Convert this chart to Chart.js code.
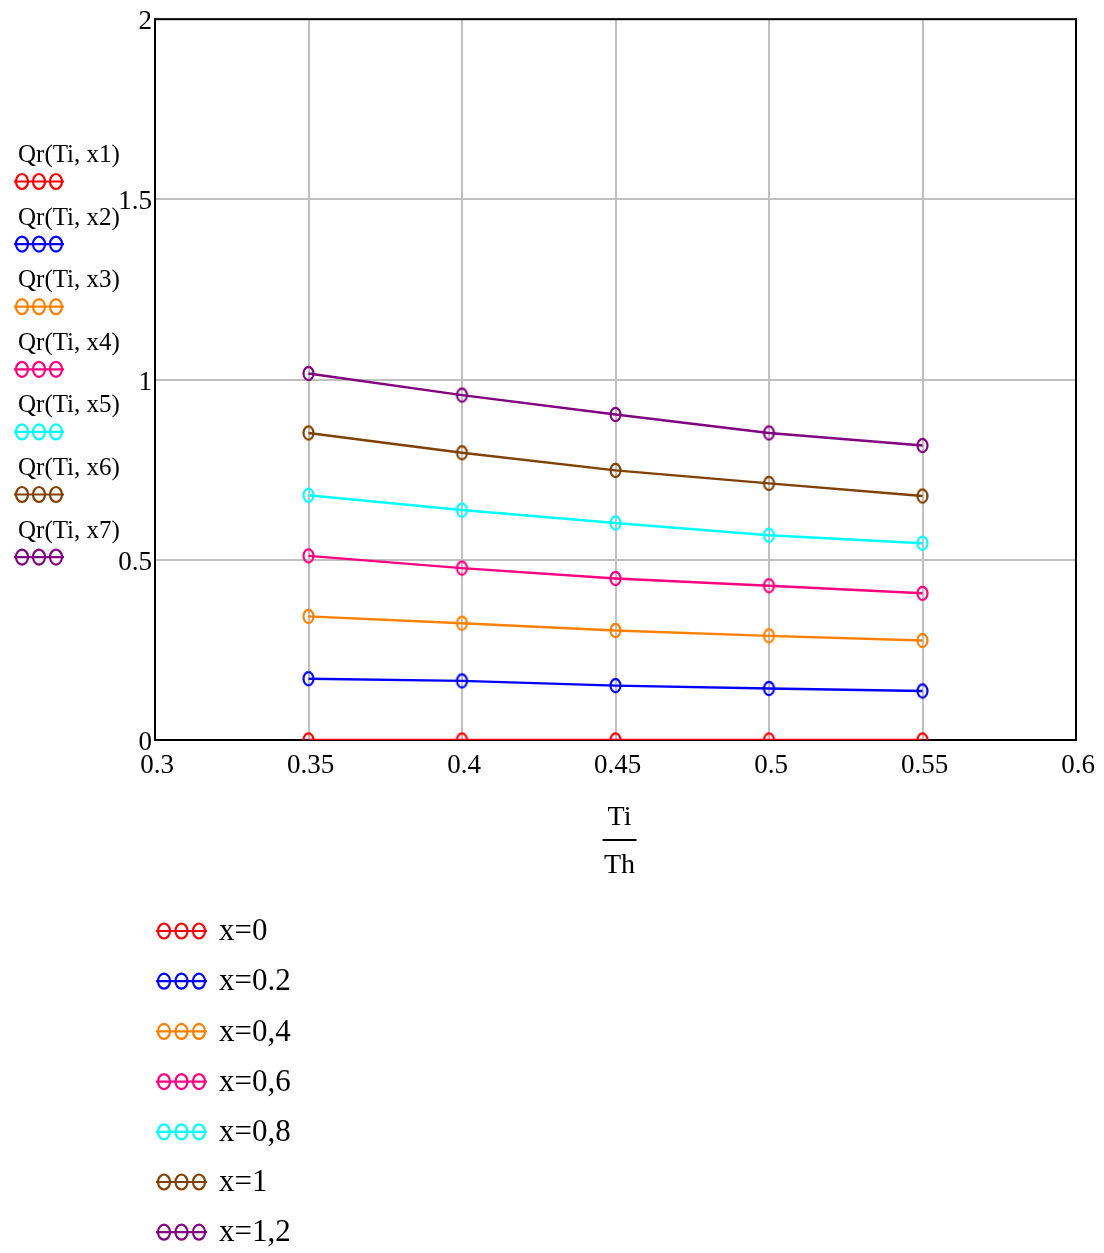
<!DOCTYPE html>
<html>
<head>
<meta charset="utf-8">
<script src="https://cdn.jsdelivr.net/npm/chart.js@4"></script>
<style>
  html, body { margin: 0; padding: 0; background: #ffffff; }
  #wrap { width: 1104px; height: 1253px; }
</style>
</head>
<body>
<div id="wrap"><canvas id="c" width="1104" height="1253"></canvas></div>
<script>
// Ti/Th ratio on the horizontal axis
const ratios = [0.35, 0.40, 0.45, 0.50, 0.55];

// Qr(Ti, x) for each x
const qrX1 = [0.000, 0.000, 0.000, 0.000, 0.000];
const qrX2 = [0.170, 0.164, 0.151, 0.143, 0.136];
const qrX3 = [0.343, 0.324, 0.304, 0.289, 0.276];
const qrX4 = [0.511, 0.477, 0.448, 0.428, 0.407];
const qrX5 = [0.679, 0.638, 0.602, 0.568, 0.546];
const qrX6 = [0.852, 0.797, 0.748, 0.712, 0.677];
const qrX7 = [1.017, 0.957, 0.903, 0.852, 0.817];

const seriesNames = ['Qr(Ti, x1)', 'Qr(Ti, x2)', 'Qr(Ti, x3)', 'Qr(Ti, x4)', 'Qr(Ti, x5)', 'Qr(Ti, x6)', 'Qr(Ti, x7)'];
const xLabels = ['x=0', 'x=0.2', 'x=0,4', 'x=0,6', 'x=0,8', 'x=1', 'x=1,2'];
const seriesColors = ['#ff0000', '#0000ff', '#ff8000', '#ff0080', '#00ffff', '#804000', '#800080'];

// tick positions
const xTicks = [0.3, 0.35, 0.4, 0.45, 0.5, 0.55, 0.6];
const yTicks = [0, 0.5, 1, 1.5, 2];

const allSeries = [qrX1, qrX2, qrX3, qrX4, qrX5, qrX6, qrX7];
const SERIF = '"Liberation Serif", "Times New Roman", serif';

// open elliptical marker used for the points
function ringMarker(color, rx, ry) {
  const c = document.createElement('canvas');
  const w = Math.ceil(rx * 2 + 5), h = Math.ceil(ry * 2 + 5);
  c.width = w; c.height = h;
  const g = c.getContext('2d');
  g.strokeStyle = color;
  g.lineWidth = 2.2;
  g.beginPath();
  g.ellipse(w / 2, h / 2, rx, ry, 0, 0, Math.PI * 2);
  g.stroke();
  return c;
}

function fmt(v) {
  return String(Math.round(v * 100) / 100);
}

const datasets = allSeries.map((vals, i) => ({
  label: seriesNames[i],
  data: ratios.map((r, k) => ({ x: r, y: vals[k] })),
  borderColor: seriesColors[i],
  borderWidth: 2.4,
  pointStyle: ringMarker(seriesColors[i], 5, 6.6),
  pointRadius: 7,
  pointHoverRadius: 7,
  clip: 0,
  fill: false,
  tension: 0
}));

function drawLegendSymbol(ctx, color, x0, x1, y, cxs, rx, ry) {
  ctx.save();
  ctx.strokeStyle = color;
  ctx.lineWidth = 2.2;
  ctx.beginPath();
  ctx.moveTo(x0, y);
  ctx.lineTo(x1, y);
  ctx.stroke();
  cxs.forEach(cx => {
    ctx.beginPath();
    ctx.ellipse(cx, y, rx, ry, 0, 0, Math.PI * 2);
    ctx.stroke();
  });
  ctx.restore();
}

const decorations = {
  id: 'decorations',
  beforeDatasetsDraw(chart) {
    const ctx = chart.ctx;
    const a = chart.chartArea;
    // plot frame, under the traces
    ctx.save();
    ctx.strokeStyle = '#000000';
    ctx.lineWidth = 2;
    ctx.strokeRect(a.left, a.top, a.right - a.left, a.bottom - a.top);
    ctx.restore();
  },
  afterDraw(chart) {
    const ctx = chart.ctx;

    // axis title as a fraction Ti / Th
    const cx = (chart.scales.x.getPixelForValue(0.45)) + 4;
    ctx.save();
    ctx.fillStyle = '#000000';
    ctx.font = '28px ' + SERIF;
    ctx.textAlign = 'center';
    ctx.textBaseline = 'middle';
    ctx.fillText('Ti', cx, 818);
    ctx.fillText('Th', cx, 866);
    ctx.strokeStyle = '#000000';
    ctx.lineWidth = 2;
    ctx.beginPath();
    ctx.moveTo(cx - 17, 840);
    ctx.lineTo(cx + 17, 840);
    ctx.stroke();
    ctx.restore();

    // trace names on the left
    ctx.save();
    ctx.font = '25px ' + SERIF;
    ctx.fillStyle = '#000000';
    ctx.textAlign = 'left';
    ctx.textBaseline = 'middle';
    seriesNames.forEach((name, i) => {
      const y = 181.5 + 62.6 * i;
      ctx.fillText(name, 18, y - 26);
      drawLegendSymbol(ctx, seriesColors[i], 14, 64, y, [22, 39, 56], 6, 7.5);
    });
    ctx.restore();

    // legend below the plot
    ctx.save();
    ctx.font = '31px ' + SERIF;
    ctx.fillStyle = '#000000';
    ctx.textAlign = 'left';
    ctx.textBaseline = 'middle';
    xLabels.forEach((lab, i) => {
      const y = 931 + 50.2 * i;
      drawLegendSymbol(ctx, seriesColors[i], 156, 207, y, [164, 181.5, 199], 6, 7.5);
      ctx.fillText(lab, 219, y + 1);
    });
    ctx.restore();
  }
};

new Chart(document.getElementById('c'), {
  type: 'line',
  data: { datasets },
  plugins: [decorations],
  options: {
    responsive: false,
    animation: false,
    events: [],
    layout: { padding: { left: 0, top: 16, right: 28, bottom: 0 } },
    plugins: {
      legend: { display: false },
      tooltip: { enabled: false },
      title: { display: false }
    },
    scales: {
      x: {
        type: 'linear',
        min: 0.3,
        max: 0.6,
        afterBuildTicks: s => { s.ticks = xTicks.map(v => ({ value: v })); },
        afterFit: s => { s.height = 513; },
        grid: { color: '#c0c0c0', lineWidth: 2, drawTicks: false },
        border: { color: '#000000', width: 2 },
        ticks: {
          color: '#000000',
          font: { family: SERIF, size: 27 },
          padding: 10,
          maxRotation: 0,
          labelOffset: 2,
          callback: v => fmt(v)
        }
      },
      y: {
        type: 'linear',
        min: 0,
        max: 2,
        afterBuildTicks: s => { s.ticks = yTicks.map(v => ({ value: v })); },
        afterFit: s => { s.width = 155; },
        grid: { color: '#c0c0c0', lineWidth: 2, drawTicks: false },
        border: { color: '#000000', width: 2 },
        ticks: {
          color: '#000000',
          font: { family: SERIF, size: 27 },
          padding: 3,
          labelOffset: 3,
          callback: v => fmt(v)
        }
      }
    }
  }
});
</script>
</body>
</html>
